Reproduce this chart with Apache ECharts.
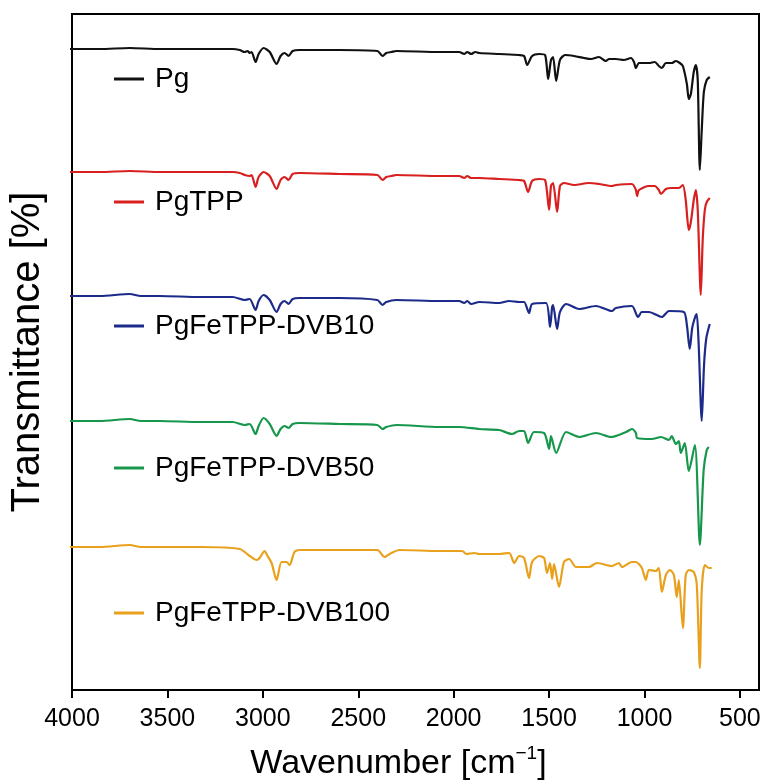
<!DOCTYPE html>
<html lang="en">
<head>
    <meta charset="UTF-8">
    <title>FTIR spectra</title>
    <style>
        * {
            margin: 0;
            padding: 0;
        }

        html, body {
            width: 100%;
            height: 100%;
            background: #fff;
        }

        #chart {
            width: 770px;
            height: 783px;
        }
    </style>
    <script src="https://cdnjs.cloudflare.com/ajax/libs/echarts/6.0.0/echarts.min.js"></script>
</head>
<body>
<div id="chart"></div>

<script>
    // tick labels of the wavenumber axis
    const xTicks = [4000, 3500, 3000, 2500, 2000, 1500, 1000, 500]

    const names = ["Pg", "PgTPP", "PgFeTPP-DVB10", "PgFeTPP-DVB50", "PgFeTPP-DVB100"]
    const colors = ["#111111", "#d7201f", "#1c2a8a", "#17974b", "#e9a11d"]

    // spectra, [wavenumber, offset transmittance (a.u.)]
    const pg = [[4016, 641], [3854, 641], [3697, 642], [3540, 641], [3331, 641], [3158, 641], [3121, 640], [3095, 638],
        [3080, 639], [3069, 637], [3059, 638], [3038, 628], [3022, 636], [2996, 642], [2964, 638], [2928, 626],
        [2907, 634], [2886, 637], [2865, 634], [2844, 639], [2808, 640], [2598, 640], [2400, 639], [2373, 634],
        [2353, 637], [2326, 638], [2300, 639], [2075, 638], [1971, 638], [1945, 636], [1929, 638], [1908, 636],
        [1887, 638], [1866, 637], [1762, 636], [1657, 635], [1631, 634], [1615, 625], [1589, 634], [1552, 636],
        [1521, 635], [1505, 611], [1490, 630], [1479, 633], [1463, 609], [1443, 630], [1416, 635], [1369, 634],
        [1317, 632], [1280, 631], [1239, 633], [1202, 629], [1186, 631], [1150, 631], [1108, 630], [1071, 632],
        [1055, 628], [1045, 622], [1029, 627], [977, 627], [946, 628], [925, 624], [909, 622], [888, 627],
        [857, 627], [836, 629], [815, 627], [799, 624], [778, 606], [768, 591], [757, 596], [742, 618],
        [731, 625], [721, 610], [710, 520], [700, 560], [689, 598], [674, 610], [658, 613]]

    const pgTPP = [[4016, 518], [3854, 518], [3697, 519], [3540, 518], [3331, 518], [3158, 518], [3121, 517], [3095, 515],
        [3069, 514], [3059, 515], [3038, 503], [3022, 513], [2996, 518], [2964, 514], [2928, 501], [2907, 510],
        [2886, 513], [2865, 510], [2844, 516], [2808, 517], [2598, 516], [2400, 515], [2373, 510], [2353, 513],
        [2326, 514], [2300, 515], [2075, 514], [1971, 514], [1945, 512], [1929, 514], [1908, 512], [1866, 512],
        [1762, 511], [1657, 510], [1631, 509], [1610, 498], [1589, 509], [1552, 511], [1521, 510], [1500, 480],
        [1490, 504], [1479, 507], [1458, 478], [1443, 504], [1422, 507], [1369, 505], [1291, 507], [1239, 506],
        [1171, 504], [1150, 505], [1066, 506], [1045, 500], [1039, 494], [1029, 500], [977, 504], [946, 504],
        [925, 500], [914, 496], [888, 501], [857, 502], [820, 502], [799, 505], [784, 490], [768, 460],
        [757, 468], [742, 490], [731, 500], [721, 480], [705, 395], [695, 450], [684, 480], [674, 488], [658, 492]]

    const dvb10 = [[4016, 394], [3854, 394], [3697, 396], [3640, 394], [3540, 394], [3331, 393], [3158, 393], [3095, 390],
        [3069, 391], [3038, 380], [3022, 389], [2996, 395], [2964, 390], [2928, 378], [2907, 386], [2886, 389],
        [2865, 386], [2844, 391], [2808, 392], [2598, 392], [2400, 390], [2373, 385], [2353, 388], [2300, 390],
        [2075, 389], [1971, 389], [1945, 387], [1929, 389], [1908, 386], [1866, 388], [1762, 387], [1709, 389],
        [1657, 388], [1631, 388], [1605, 377], [1589, 386], [1516, 387], [1495, 363], [1484, 383], [1479, 385],
        [1458, 361], [1443, 378], [1411, 386], [1343, 381], [1254, 384], [1171, 379], [1150, 382], [1066, 384],
        [1034, 373], [1014, 378], [977, 378], [909, 373], [872, 379], [794, 378], [778, 365], [763, 341],
        [750, 362], [733, 374], [726, 376], [716, 345], [700, 269], [688, 325], [676, 352], [658, 366]]

    const dvb50 = [[4016, 269], [3854, 269], [3697, 271], [3640, 269], [3540, 269], [3331, 268], [3158, 268], [3095, 265],
        [3069, 266], [3038, 256], [3022, 264], [2996, 272], [2964, 266], [2928, 254], [2907, 261], [2886, 264],
        [2865, 262], [2844, 266], [2808, 267], [2598, 266], [2400, 265], [2373, 261], [2353, 263], [2300, 265],
        [2075, 263], [1971, 263], [1866, 261], [1762, 260], [1694, 256], [1657, 259], [1631, 259], [1610, 247],
        [1579, 258], [1526, 257], [1500, 241], [1490, 254], [1463, 237], [1411, 258], [1343, 253], [1254, 257],
        [1176, 253], [1097, 258], [1066, 261], [1045, 257], [1039, 252], [961, 251], [914, 253], [872, 250],
        [857, 254], [836, 246], [820, 249], [810, 237], [789, 247], [768, 219], [736, 245], [710, 145],
        [690, 220], [674, 240], [663, 243]]

    const dvb100 = [[4016, 143], [3854, 143], [3697, 145], [3640, 143], [3331, 143], [3121, 141], [3069, 134], [3032, 130],
        [3017, 132], [2991, 139], [2975, 134], [2954, 127], [2928, 110], [2902, 128], [2876, 128], [2860, 125],
        [2834, 138], [2808, 140], [2598, 140], [2400, 140], [2363, 133], [2326, 137], [2285, 140], [2075, 139],
        [1955, 139], [1934, 136], [1892, 137], [1866, 136], [1762, 136], [1709, 137], [1683, 127], [1657, 134],
        [1631, 132], [1605, 112], [1589, 128], [1552, 134], [1526, 132], [1511, 117], [1495, 127], [1484, 111],
        [1474, 126], [1448, 103], [1422, 128], [1395, 131], [1359, 123], [1291, 123], [1249, 127], [1171, 124],
        [1134, 127], [1118, 123], [1066, 128], [1045, 128], [1014, 122], [993, 110], [977, 120], [940, 119],
        [925, 122], [909, 98], [888, 115], [867, 120], [846, 115], [831, 93], [820, 110], [799, 62],
        [784, 115], [768, 120], [742, 118], [726, 105], [710, 22], [700, 100], [684, 125], [663, 122], [648, 122]]

    const spectra = [pg, pgTPP, dvb10, dvb50, dvb100]
    // vertical centre of each legend entry (px)
    const legendY = [79, 202, 326, 468, 613]

    const font = "'Liberation Sans', Arial, sans-serif"

    let chart = echarts.init(document.getElementById('chart'))

    let option = {
        animation: false,
        grid: {
            left: 72,
            right: 11,
            top: 14,
            bottom: 93,
            outerBoundsMode: 'none',
            show: true,
            borderColor: '#000',
            borderWidth: 2
        },
        legend: names.map((n, i) => ({
            data: [n],
            left: 114,
            top: legendY[i] - 16,
            padding: 0,
            icon: 'rect',
            itemWidth: 30,
            itemHeight: 3,
            textStyle: {
                fontFamily: font,
                fontSize: 28,
                color: '#000',
                lineHeight: 32,
                padding: [0, 0, 0, 6]
            }
        })),
        xAxis: {
            type: 'value',
            inverse: true,
            min: 400,
            max: 4000,
            name: 'Wavenumber [cm{sup|−1}]',
            nameLocation: 'middle',
            nameGap: 54,
            nameTextStyle: {
                fontFamily: font,
                fontSize: 34,
                color: '#000',
                lineHeight: 40,
                padding: [0, 34, 0, 0],
                rich: {
                    sup: {
                        fontFamily: font,
                        fontSize: 19,
                        verticalAlign: 'top',
                        lineHeight: 19,
                        color: '#000'
                    }
                }
            },
            axisLine: {lineStyle: {color: '#000', width: 2}},
            axisTick: {
                customValues: xTicks,
                length: 8,
                lineStyle: {color: '#000', width: 2}
            },
            axisLabel: {
                customValues: xTicks,
                formatter: v => String(v),
                margin: 17,
                fontFamily: font,
                fontSize: 25,
                color: '#000'
            },
            splitLine: {show: false}
        },
        yAxis: {
            type: 'value',
            min: 0,
            max: 676,
            name: 'Transmittance [%]',
            nameLocation: 'middle',
            nameGap: 24,
            nameTextStyle: {
                fontFamily: font,
                fontSize: 40,
                color: '#000'
            },
            axisLine: {lineStyle: {color: '#000', width: 2}},
            axisTick: {show: false},
            axisLabel: {show: false},
            splitLine: {show: false}
        },
        series: spectra.map((d, i) => ({
            name: names[i],
            type: 'line',
            data: d,
            showSymbol: false,
            smooth: 0.25,
            color: colors[i],
            lineStyle: {width: 2.2, color: colors[i]}
        }))
    }
    chart.setOption(option, true)
</script>
</body>
</html>
